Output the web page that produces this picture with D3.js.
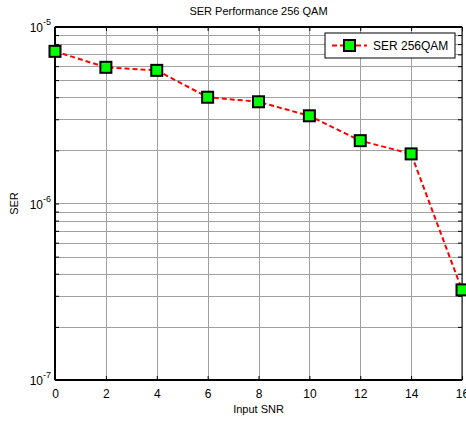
<!DOCTYPE html>
<meta charset="utf-8">
<style>
body { margin: 0; background: #fff; }
text { font-family: "Liberation Sans", Arial, sans-serif; fill: #000; }
.grid line { stroke: #a0a0a0; stroke-width: 1px; shape-rendering: crispEdges; }
.line { fill: none; stroke: #ff0000; stroke-width: 2px; stroke-dasharray: 5,3; }
</style>
<body>
<script src="https://cdn.jsdelivr.net/npm/d3@7"></script>
<script>
// chart data
var snr = [0, 2, 4, 6, 8, 10, 12, 14, 16];
var ser = [7.28e-6, 5.91e-6, 5.68e-6, 4.0e-6, 3.77e-6, 3.14e-6, 2.27e-6, 1.91e-6, 3.24e-7];
var xTicks = [0, 2, 4, 6, 8, 10, 12, 14, 16];
var yDecades = [-7, -6, -5];

var margin = {top: 27, right: 4, bottom: 41, left: 55},
    width = 466 - margin.left - margin.right,
    height = 421 - margin.top - margin.bottom;

var x = d3.scaleLinear().domain([0, 16]).range([0, width]);
var y = d3.scaleLog().domain([1e-7, 1e-5]).range([height, 0]);

// minor ticks for the log axis: 2..9 within each decade
var minor = [];
yDecades.slice(0, 2).forEach(function(e) {
  for (var m = 2; m <= 9; m++) minor.push(m * Math.pow(10, e));
});
var major = yDecades.map(function(e) { return Math.pow(10, e); });

var svg = d3.select("body").append("svg")
    .attr("width", 466)
    .attr("height", 421)
  .append("g")
    .attr("transform", "translate(" + margin.left + "," + margin.top + ")");

// grid
var grid = svg.append("g").attr("class", "grid");
grid.selectAll(".gx").data(xTicks).enter().append("line")
    .attr("x1", function(d) { return Math.round(x(d)) + 0.5; })
    .attr("x2", function(d) { return Math.round(x(d)) + 0.5; })
    .attr("y1", 0).attr("y2", height);
grid.selectAll(".gy").data(major.concat(minor)).enter().append("line")
    .attr("x1", 0).attr("x2", width)
    .attr("y1", function(d) { return Math.round(y(d)) + 0.5; })
    .attr("y2", function(d) { return Math.round(y(d)) + 0.5; });

// axes with inward ticks (box on)
var tickStyle = function(g) {
  g.select(".domain").remove();
  g.selectAll("line").attr("stroke", "#000");
};
svg.append("g")
    .attr("transform", "translate(0," + height + ")")
    .call(d3.axisBottom(x).tickValues(xTicks).tickSize(-4).tickPadding(9).tickFormat(d3.format("d")))
    .call(tickStyle)
    .selectAll("text").style("font-size", "12px");
svg.append("g")
    .call(d3.axisTop(x).tickValues(xTicks).tickSize(-4).tickFormat(""))
    .call(tickStyle);
svg.append("g")
    .call(d3.axisLeft(y).tickValues(major.concat(minor)).tickSize(-4).tickFormat(""))
    .call(tickStyle);
svg.append("g")
    .attr("transform", "translate(" + width + ",0)")
    .call(d3.axisRight(y).tickValues(major.concat(minor)).tickSize(-4).tickFormat(""))
    .call(tickStyle);

// y labels 10^e
var yl = svg.append("g").selectAll("text").data(yDecades).enter().append("text")
    .attr("x", -4)
    .attr("y", function(d) { return y(Math.pow(10, d)) + 5; })
    .attr("text-anchor", "end")
    .style("font-size", "12px");
yl.append("tspan").text("10");
yl.append("tspan").attr("dy", -7).style("font-size", "9px").text(function(d) { return d; });

// box
svg.append("rect")
    .attr("width", width).attr("height", height)
    .attr("fill", "none").attr("stroke", "#000").attr("stroke-width", 1);
svg.append("line").attr("x1", 0).attr("x2", width).attr("y1", height).attr("y2", height)
    .attr("stroke", "#000").attr("stroke-width", 2);
svg.append("line").attr("x1", 0).attr("x2", 0).attr("y1", 0).attr("y2", height)
    .attr("stroke", "#000").attr("stroke-width", 2);
svg.append("line").attr("x1", 0).attr("x2", width).attr("y1", 0).attr("y2", 0)
    .attr("stroke", "#000").attr("stroke-width", 2);

// data line
var data = snr.map(function(d, i) { return {x: d, y: ser[i]}; });
svg.append("path")
    .datum(data)
    .attr("class", "line")
    .attr("d", d3.line().x(function(d) { return x(d.x); }).y(function(d) { return y(d.y); }));

svg.selectAll(".pt").data(data).enter().append("rect")
    .attr("x", function(d) { return x(d.x) - 5.5; })
    .attr("y", function(d) { return y(d.y) - 5.5; })
    .attr("width", 11).attr("height", 11)
    .attr("fill", "#00ff00").attr("stroke", "#000").attr("stroke-width", 2);

// title and labels
svg.append("text")
    .attr("x", width / 2).attr("y", -12)
    .attr("text-anchor", "middle")
    .style("font-size", "11px")
    .text("SER Performance 256 QAM");
svg.append("text")
    .attr("x", width / 2).attr("y", height + 33)
    .attr("text-anchor", "middle")
    .style("font-size", "11px")
    .text("Input SNR");
svg.append("text")
    .attr("transform", "translate(-37," + (height / 2) + ") rotate(-90)")
    .attr("text-anchor", "middle")
    .style("font-size", "11px")
    .text("SER");

// legend
var lg = svg.append("g").attr("transform", "translate(" + (325 - margin.left) + "," + (33 - margin.top) + ")");
lg.append("rect").attr("width", 130).attr("height", 25)
    .attr("fill", "#fff").attr("stroke", "#000").attr("stroke-width", 1);
lg.append("line").attr("x1", 7).attr("x2", 42).attr("y1", 12.5).attr("y2", 12.5)
    .attr("stroke", "#ff0000").attr("stroke-width", 2).attr("stroke-dasharray", "5,3");
lg.append("rect").attr("x", 19).attr("y", 7).attr("width", 11).attr("height", 11)
    .attr("fill", "#00ff00").attr("stroke", "#000").attr("stroke-width", 2);
lg.append("text").attr("x", 48).attr("y", 17).style("font-size", "12px").text("SER 256QAM");
</script>
</body>
